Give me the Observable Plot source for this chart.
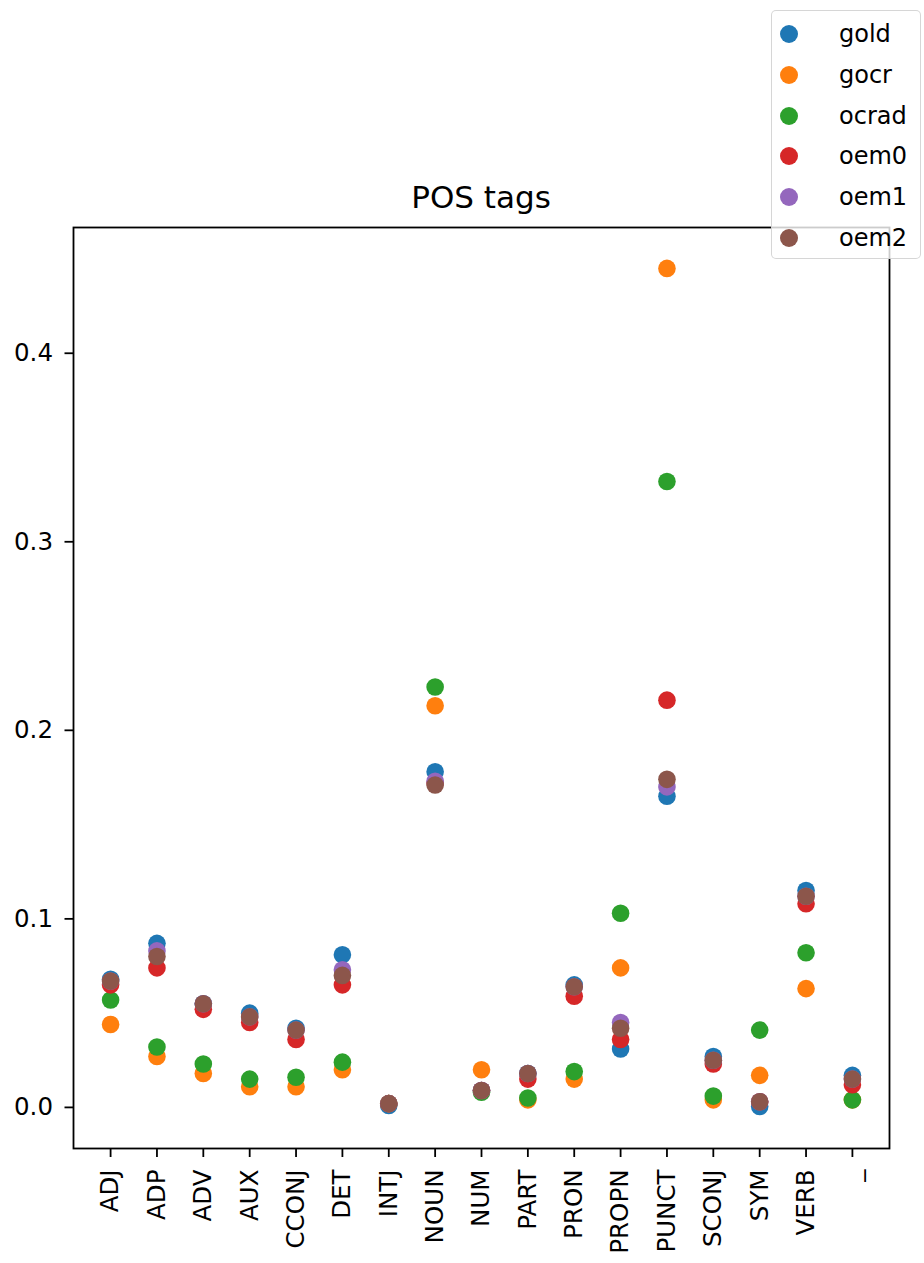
<!DOCTYPE html>
<html>
<head>
<meta charset="utf-8">
<script src="https://cdn.jsdelivr.net/npm/d3@7"></script>
<script src="https://cdn.jsdelivr.net/npm/@observablehq/plot@0.6"></script>
<style>
  html, body { margin: 0; padding: 0; background: #fff; }
  #wrap { position: relative; width: 924px; height: 1263px; font-family: "DejaVu Sans", sans-serif; }
  #title { position: absolute; left: 73px; width: 816px; top: 182px; text-align: center; font-size: 31px; line-height: 1; color: #000; }
  #legend { position: absolute; left: 771px; top: 10px; width: 150px; height: 249px; box-sizing: border-box;
            background: rgba(255,255,255,0.8); border: 1.5px solid rgba(204,204,204,0.8); border-radius: 5px; }
  .item { position: absolute; left: 0; height: 40px; display: flex; align-items: center; font-size: 24px; color: #000; }
  .item .m { width: 18px; height: 18px; border-radius: 50%; margin-left: 8px; margin-right: 41px; }
</style>
</head>
<body>
<div id="wrap">
  <div id="chart"></div>
  <div id="title">POS tags</div>
  <div id="legend"></div>
</div>
<script>
const categories = ["ADJ","ADP","ADV","AUX","CCONJ","DET","INTJ","NOUN","NUM","PART","PRON","PROPN","PUNCT","SCONJ","SYM","VERB","_"];
const seriesNames = ["gold","gocr","ocrad","oem0","oem1","oem2"];
const seriesColors = ["#1f77b4","#ff7f0e","#2ca02c","#d62728","#9467bd","#8c564b"];
const yTicks = [0, 0.1, 0.2, 0.3, 0.4];

const gold  = [0.068, 0.087, 0.055, 0.050, 0.042, 0.081, 0.001, 0.178, 0.009, 0.018, 0.065, 0.031, 0.165, 0.027, 0.0005, 0.115, 0.017];
const gocr  = [0.044, 0.027, 0.018, 0.011, 0.011, 0.020, 0.002, 0.213, 0.020, 0.004, 0.015, 0.074, 0.445, 0.004, 0.017, 0.063, 0.004];
const ocrad = [0.057, 0.032, 0.023, 0.015, 0.016, 0.024, 0.002, 0.223, 0.008, 0.005, 0.019, 0.103, 0.332, 0.006, 0.041, 0.082, 0.004];
const oem0  = [0.065, 0.074, 0.052, 0.045, 0.036, 0.065, 0.002, 0.172, 0.009, 0.015, 0.059, 0.036, 0.216, 0.023, 0.003, 0.108, 0.012];
const oem1  = [0.067, 0.083, 0.055, 0.048, 0.041, 0.073, 0.002, 0.173, 0.009, 0.018, 0.064, 0.045, 0.170, 0.025, 0.003, 0.112, 0.015];
const oem2  = [0.067, 0.080, 0.055, 0.048, 0.041, 0.070, 0.002, 0.171, 0.009, 0.018, 0.064, 0.042, 0.174, 0.025, 0.003, 0.112, 0.015];

const seriesValues = [gold, gocr, ocrad, oem0, oem1, oem2];
const rows = [];
seriesNames.forEach((s, si) => categories.forEach((c, i) => rows.push({cat: c, v: seriesValues[si][i], series: s})));

const chart = Plot.plot({
  width: 924,
  height: 1263,
  marginLeft: 73,
  marginRight: 35,
  marginTop: 227,
  marginBottom: 115,
  style: {fontFamily: "DejaVu Sans", fontSize: "24.5px", color: "#000", background: "#fff"},
  x: {type: "point", domain: categories, padding: 0.8, round: false},
  y: {domain: [-0.0218, 0.4667]},
  color: {domain: seriesNames, range: seriesColors},
  marks: [
    Plot.dot(rows, {x: "cat", y: "v", fill: "series", r: 8.8}),
    Plot.frame({stroke: "#000", strokeWidth: 1.8}),
    Plot.axisY({ticks: yTicks, tickFormat: d => d.toFixed(1), tickSize: 8.5, tickPadding: 12, strokeWidth: 1.8, fontSize: 24.5, label: null}),
    Plot.axisX({tickRotate: -90, tickSize: 9, tickPadding: 12, strokeWidth: 1.8, fontSize: 24.5, label: null})
  ]
});
document.getElementById("chart").appendChild(chart);

const legend = document.getElementById("legend");
seriesNames.forEach((s, i) => {
  const d = document.createElement("div");
  d.className = "item";
  d.style.top = (3 + i * 40.8) + "px";
  const m = document.createElement("span");
  m.className = "m";
  m.style.background = seriesColors[i];
  const t = document.createElement("span");
  t.textContent = s;
  d.appendChild(m); d.appendChild(t);
  legend.appendChild(d);
});
</script>
</body>
</html>
